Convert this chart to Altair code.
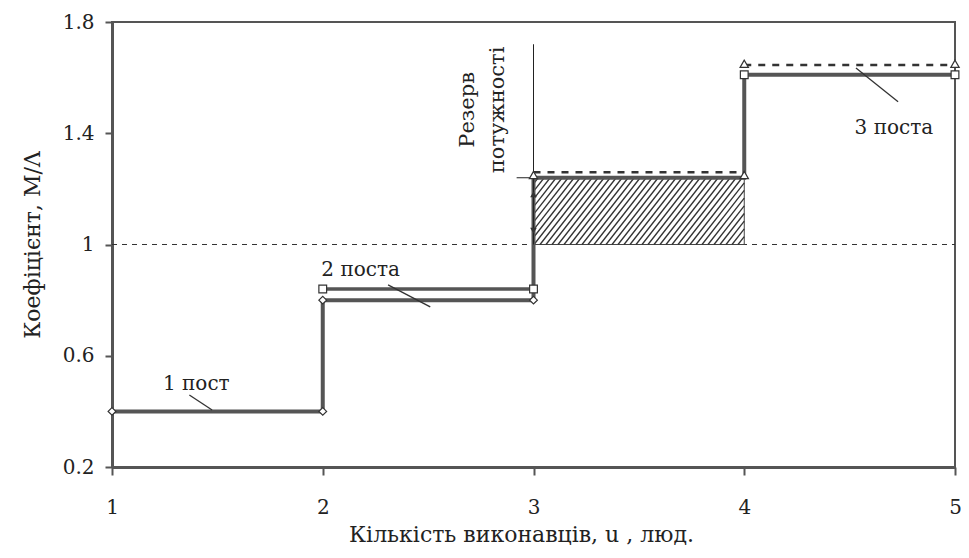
import altair as alt
import pandas as pd

# ---- data ----
step_x = [1, 2, 2, 3, 3, 4, 4, 5]
step_y = [0.4, 0.4, 0.8, 0.8, 1.24, 1.24, 1.61, 1.61]

two_x = [2, 3]
two_y = [0.84, 0.84]

dash_x = [3, 4, 4, 5]
dash_y = [1.26, 1.26, 1.645, 1.645]
dash_seg = ["a", "a", "b", "b"]

diam_x = [1, 2, 2, 3]
diam_y = [0.4, 0.4, 0.8, 0.8]
sq_x = [2, 3, 4, 5]
sq_y = [0.84, 0.84, 1.61, 1.61]
tri_x = [3, 4, 4, 5]
tri_y = [1.25, 1.25, 1.65, 1.65]

reserve = {"x": 3, "x2": 4, "y": 1.0, "y2": 1.24}

leader_x = [1.367, 2.31, 4.53]
leader_y = [0.459, 0.855, 1.635]
leader_x2 = [1.475, 2.51, 4.73]
leader_y2 = [0.405, 0.776, 1.513]

label_text = ["1 пост", "2 поста", "3 поста"]
label_x = [1.40, 2.18, 4.71]
label_y = [0.50, 0.91, 1.42]

pointer_x = [3, 2.92]
pointer_y = [1.0, 1.24]
pointer_x2 = [3, 3]
pointer_y2 = [1.72, 1.24]

arrow_x = [3, 3]
arrow_y = [1.18, 1.05]
arrow_shape = ["triangle-up", "triangle-down"]

y_ticks = [0.2, 0.6, 1.0, 1.4, 1.8]
x_ticks = [1, 2, 3, 4, 5]

FONT = "DejaVu Serif"
LINE = "#555555"
INK = "#222222"

W, H = 843, 445
xs = alt.Scale(domain=[1, 5], nice=False, zero=False)
ys = alt.Scale(domain=[0.2, 1.8], nice=False, zero=False)

X = alt.X("x:Q", scale=xs,
          axis=alt.Axis(values=x_ticks, format="d", title="Кількість виконавців, u , люд.",
                        tickSize=8, labelPadding=22, titleX=409, titleY=74,
                        titleBaseline="alphabetic", titleAlign="center"))
Y = alt.Y("y:Q", scale=ys,
          axis=alt.Axis(values=y_ticks, format=".1~f", title="Коефіцієнт, M/Λ",
                        tickSize=7, labelPadding=11, titlePadding=18))

# hatch pattern lines (decoration) clipped to the reserve rectangle
px_x = W / 4.0
px_y = H / 1.6
k = 1.28 * px_x / px_y
step_c = 6.0 / px_x
hx, hy, hx2, hy2 = [], [], [], []
c = reserve["x2"] - 0.001
dy_full = reserve["y2"] - reserve["y"]
while c > reserve["x"] - dy_full / k:
    x0, y0 = c, reserve["y"]
    if x0 < reserve["x"]:
        y0 = reserve["y"] + k * (reserve["x"] - c)
        x0 = reserve["x"]
    x1, y1 = c + dy_full / k, reserve["y2"]
    if x1 > reserve["x2"]:
        y1 = reserve["y"] + k * (reserve["x2"] - c)
        x1 = reserve["x2"]
    hx.append(x0); hy.append(y0); hx2.append(x1); hy2.append(y1)
    c -= step_c

rect = alt.Chart(pd.DataFrame([reserve])).mark_rect(fill="white", stroke="#444", strokeWidth=1).encode(
    x=X, x2="x2:Q", y=Y, y2="y2:Q")

hatch = alt.Chart(pd.DataFrame({"x": hx, "y": hy, "x2": hx2, "y2": hy2})).mark_rule(
    color="#333", strokeWidth=1.3).encode(x=X, y=Y, x2="x2:Q", y2="y2:Q")

one_line = alt.Chart(pd.DataFrame({"x": [1, 5], "y": [1.0, 1.0]})).mark_line(
    color="#333", strokeWidth=1, strokeDash=[5, 5]).encode(x=X, y=Y)

step = alt.Chart(pd.DataFrame({"x": step_x, "y": step_y, "o": list(range(len(step_x)))})).mark_line(
    color=LINE, strokeWidth=4).encode(x=X, y=Y, order="o:Q")

two = alt.Chart(pd.DataFrame({"x": two_x, "y": two_y})).mark_line(
    color=LINE, strokeWidth=3.5).encode(x=X, y=Y)

dash = alt.Chart(pd.DataFrame({"x": dash_x, "y": dash_y, "s": dash_seg})).mark_line(
    color="#333", strokeWidth=2.5, strokeDash=[7, 7]).encode(x=X, y=Y, detail="s:N")

pointers = alt.Chart(pd.DataFrame({"x": pointer_x, "y": pointer_y, "x2": pointer_x2, "y2": pointer_y2})).mark_rule(
    color="#222", strokeWidth=1).encode(x=X, y=Y, x2="x2:Q", y2="y2:Q")

arrows = alt.Chart(pd.DataFrame({"x": arrow_x, "y": arrow_y, "s": arrow_shape})).mark_point(
    filled=True, color="#333", size=45, opacity=1).encode(
    x=X, y=Y, shape=alt.Shape("s:N", scale=None))

leaders = alt.Chart(pd.DataFrame({"x": leader_x, "y": leader_y, "x2": leader_x2, "y2": leader_y2})).mark_rule(
    color="#333", strokeWidth=1.3).encode(x=X, y=Y, x2="x2:Q", y2="y2:Q")

labels = alt.Chart(pd.DataFrame({"x": label_x, "y": label_y, "t": label_text})).mark_text(
    font=FONT, fontSize=20, color=INK).encode(x=X, y=Y, text="t:N")

reserve_txt = alt.Chart(pd.DataFrame({"x": [2.72], "y": [1.484], "t": ["Резерв\nпотужності"]})).mark_text(
    font=FONT, fontSize=21, color=INK, angle=270, align="center", baseline="alphabetic",
    lineBreak="\n", lineHeight=30).encode(x=X, y=Y, text="t:N")

def markers(xv, yv, shape, size):
    return alt.Chart(pd.DataFrame({"x": xv, "y": yv})).mark_point(
        shape=shape, filled=True, fill="white", stroke="#333", strokeWidth=1.2, size=size, opacity=1).encode(x=X, y=Y)

m_d = markers(diam_x, diam_y, "diamond", 60)
m_s = markers(sq_x, sq_y, "square", 60)
m_t = markers(tri_x, tri_y, "triangle-up", 70)

chart = alt.layer(one_line, rect, hatch, step, two, dash, pointers, arrows, leaders,
                  m_d, m_s, m_t, labels, reserve_txt).properties(
    width=W, height=H,
    padding={"left": 104, "top": 14, "right": 6, "bottom": 83},
    autosize=alt.AutoSizeParams(type="none"),
).configure_view(stroke="#555", strokeWidth=2).configure_axis(
    grid=False, domainColor=LINE, domainWidth=3, tickColor=LINE, tickWidth=2,
    labelFont=FONT, labelFontSize=20, labelColor=INK, titleFont=FONT, titleFontSize=22,
    titleColor=INK, titleFontWeight="normal", labelFlush=False)

chart.save("out.html", embed_options={"renderer": "svg", "actions": False})
